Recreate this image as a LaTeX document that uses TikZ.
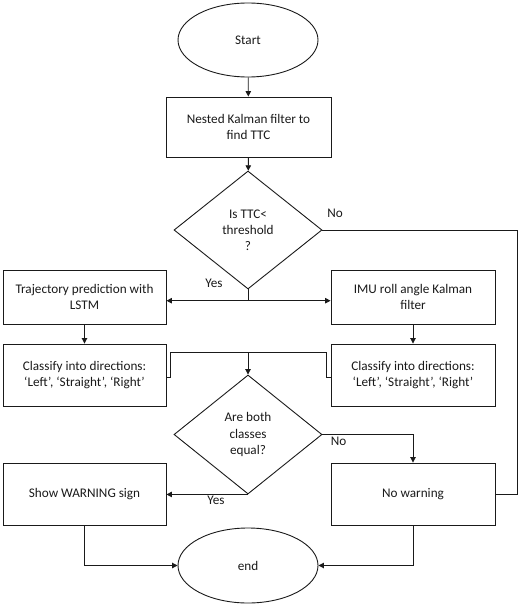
\documentclass[tikz,border=0pt]{standalone}
\usepackage{fontspec}
\setmainfont{Carlito}
\usetikzlibrary{shapes.geometric,arrows.meta}
\definecolor{ink}{HTML}{1A1A1A}
\begin{document}
\begin{tikzpicture}[x=1pt,y=-1pt,
  every node/.style={font=\fontsize{13.2}{16.2}\selectfont, text=ink, align=center},
  line/.style={draw=ink, line width=0.9pt},
  arr/.style={line, -{Triangle[length=5.5pt,width=5.5pt]}},
  term/.style={ellipse, draw=ink, line width=0.9pt, minimum width=140pt, minimum height=74pt, inner sep=0pt},
  proc/.style={rectangle, draw=ink, line width=0.9pt, minimum height=54pt, inner sep=0pt},
  dec/.style={diamond, draw=ink, line width=0.9pt, minimum width=148pt, minimum height=118pt, inner sep=0pt},
  lbl/.style={inner sep=0pt}
]
\useasboundingbox (0,0) rectangle (520,604);

\node[term] (start) at (248,40) {Start};
\node[proc, minimum width=165pt, minimum height=60pt] (nkf) at (248.5,127) {Nested Kalman filter to\\find TTC};
\node[dec] (d1) at (248,230) {Is TTC<\\threshold\\?};
\node[proc, minimum width=163pt] (tp) at (84.5,297) {Trajectory prediction with\\LSTM};
\node[proc, minimum width=164pt] (imu) at (413,297) {IMU roll angle Kalman\\filter};
\node[proc, minimum width=163pt, minimum height=62pt] (cl) at (84.5,375) {Classify into directions:\\‘Left’, ‘Straight’, ‘Right’};
\node[proc, minimum width=164pt, minimum height=62pt] (cr) at (413,375) {Classify into directions:\\‘Left’, ‘Straight’, ‘Right’};
\node[dec, minimum height=119pt] (d2) at (248,434.5) {Are both\\classes\\equal?};
\node[proc, minimum width=163pt, minimum height=62pt] (sw) at (84.5,494) {Show WARNING sign};
\node[proc, minimum width=164pt, minimum height=62pt] (nw) at (413,494) {No warning};
\node[term, minimum height=75pt] (stop) at (248,565.5) {end};

\node[lbl] (no1) at (335,213) {No};
\node[lbl] (yes1) at (214,283) {Yes};
\node[lbl] (no2) at (338.5,441) {No};
\node[lbl] (yes2) at (216,500.5) {Yes};

\coordinate (split) at (248,300.7);
\coordinate (join) at (248,352.3);
\coordinate (nocorner) at (517,230);

\draw[arr] (start) -- (nkf);
\draw[arr] (nkf) -- (d1);
\draw[line] (d1.east) -- (nocorner) |- (nw.east);
\draw[line] (d1.south) -- (split);
\draw[arr] (split) -- (split -| tp.east);
\draw[arr] (split) -- (split -| imu.west);
\draw[arr] (tp) -- (cl);
\draw[arr] (imu) -- (cr);
\draw[line] ([yshift=-2pt]cl.east) -- ++(4,0) |- (join);
\draw[line] ([yshift=-2pt]cr.west) -- ++(-4,0) |- (join);
\draw[arr] (join) -- (d2.north);
\draw[arr] (d2.east) -| (nw.north);
\draw[arr] (d2.south) -- (d2.south -| sw.east);
\draw[arr] (sw.south) |- (stop.west);
\draw[arr] (nw.south) |- (stop.east);
\end{tikzpicture}
\end{document}
